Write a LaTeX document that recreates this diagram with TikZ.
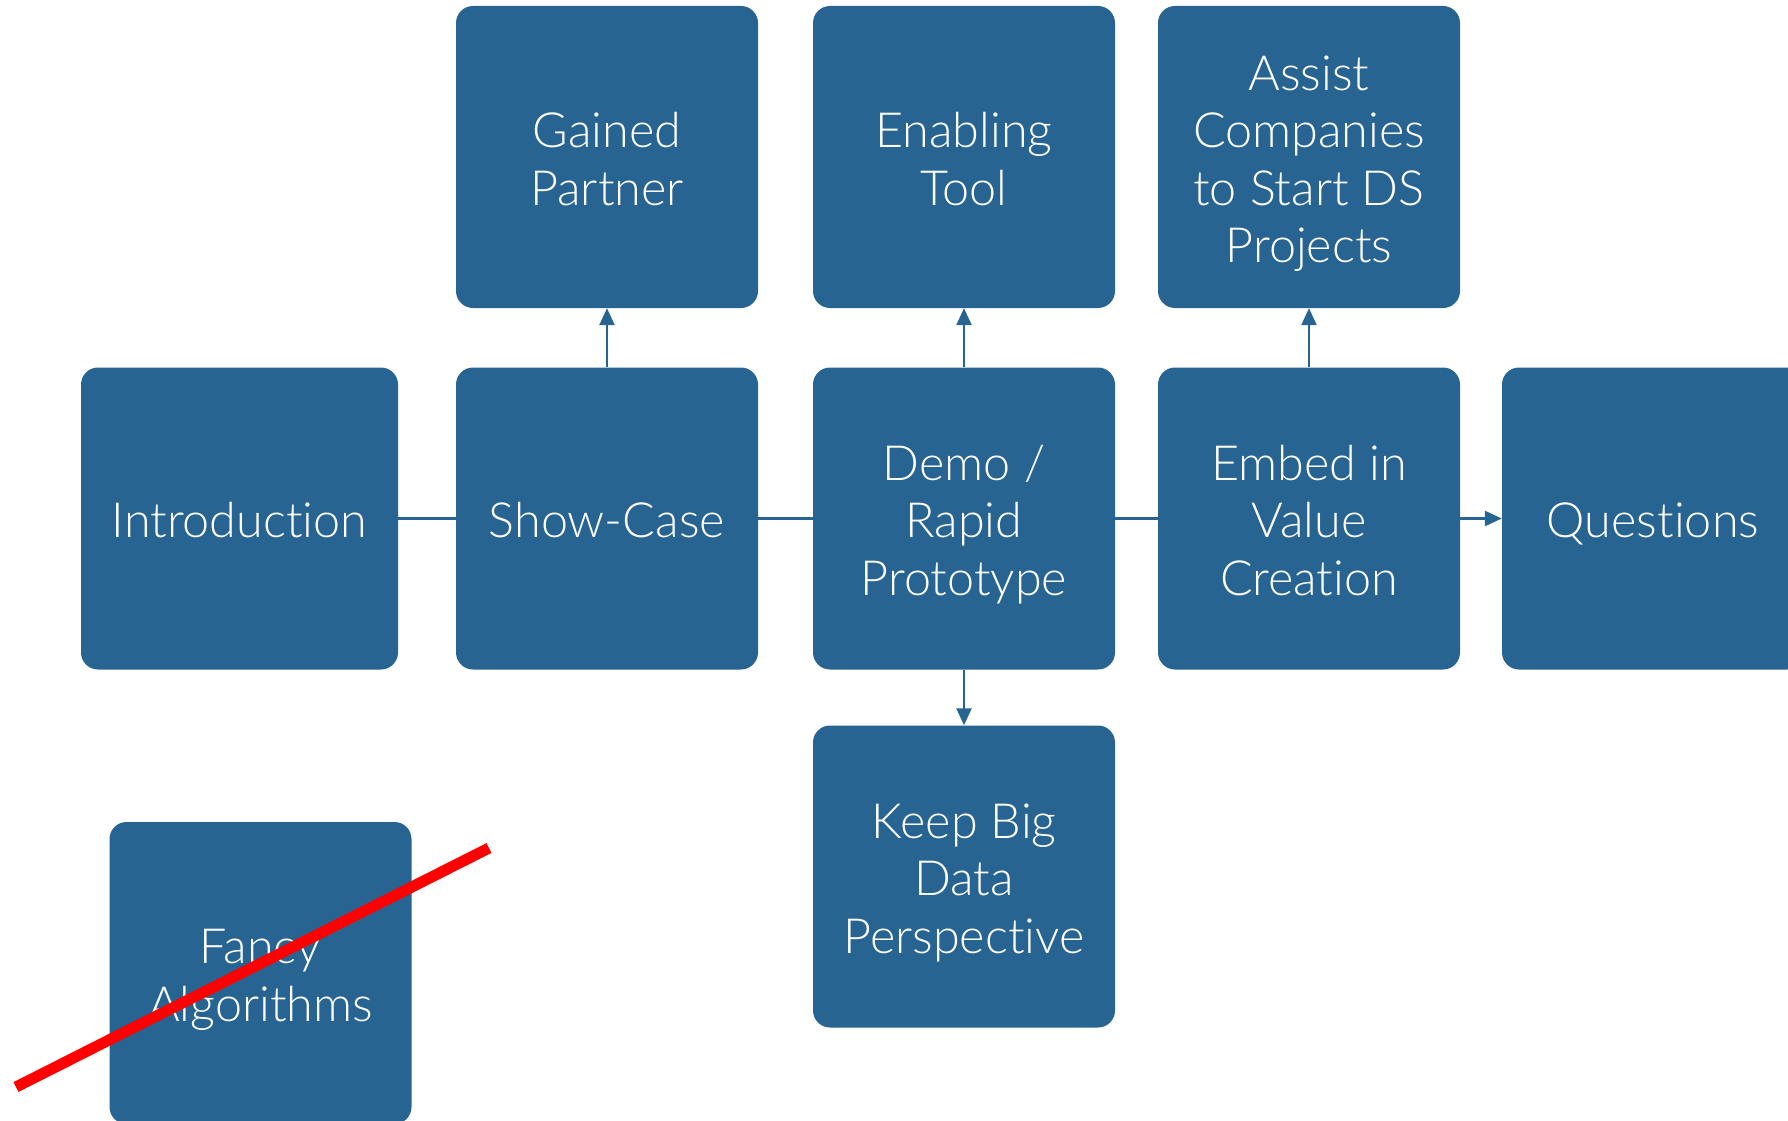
\documentclass[tikz,border=0pt]{standalone}
\usepackage{fontspec}
\IfFontExistsTF{Lato Light}
  {\setmainfont{Lato Light}[Ligatures=NoCommon]}
  {\setmainfont{Lato}[Ligatures=NoCommon]}
\usetikzlibrary{arrows.meta}
\definecolor{boxblue}{RGB}{39,100,146}
\definecolor{strike}{RGB}{255,0,0}
% fixed line box for the card texts: ascent on the first line, descent on the last
\newcommand{\cardlines}[1]{\rule{0pt}{1.05em}#1\rule[-0.25em]{0pt}{0pt}}
\begin{document}
\begin{tikzpicture}[x=1pt,y=-1pt,
  card/.style={fill=boxblue, draw=none, rounded corners=17pt,
    minimum width=302pt, minimum height=302pt, inner sep=0pt,
    text=white, align=center, font=\fontsize{48.5}{57.6}\selectfont},
  link/.style={draw=boxblue, line width=2.5pt},
  flow/.style={link, -{Triangle[length=17pt,width=15pt]}}]
\clip (0,0) rectangle (1788,1121);

% main row
\node[card, minimum width=317pt] (intro) at (239.5,518.5) {\cardlines{Introduction}};
\node[card] (show)  at (607,518.5)   {\cardlines{Show-Case}};
\node[card] (demo)  at (964,518.5)   {\cardlines{Demo /\\Rapid\\Prototype}};
\node[card] (embed) at (1309,518.5)  {\cardlines{Embed in\\Value\\Creation}};
\node[card] (quest) at (1653,518.5)  {\cardlines{Questions}};

% outcomes above
\node[card] (gained) at (607,157)  {\cardlines{Gained\\Partner}};
\node[card] (enable) at (964,157)  {\cardlines{Enabling\\Tool}};
\node[card] (assist) at (1309,157) {\cardlines{Assist\\Companies\\to Start DS\\Projects}};

% below
\node[card] (keep)  at (964,876.5) {\cardlines{Keep Big\\Data\\Perspective}};
\node[card] (fancy) at (260.5,973) {\cardlines{Fancy\\Algorithms}};

% connectors
\draw[link] (intro) -- (show);
\draw[link] (show) -- (demo);
\draw[link] (demo) -- (embed);
\draw[flow] (embed) -- (quest);
\draw[flow] (show) -- (gained);
\draw[flow] (demo) -- (enable);
\draw[flow] (embed) -- (assist);
\draw[flow] (demo) -- (keep);

% crossing out
\coordinate (s1) at (16,1087);
\coordinate (s2) at (489,848);
\draw[strike, line width=11pt] (s1) -- (s2);
\end{tikzpicture}
\end{document}
